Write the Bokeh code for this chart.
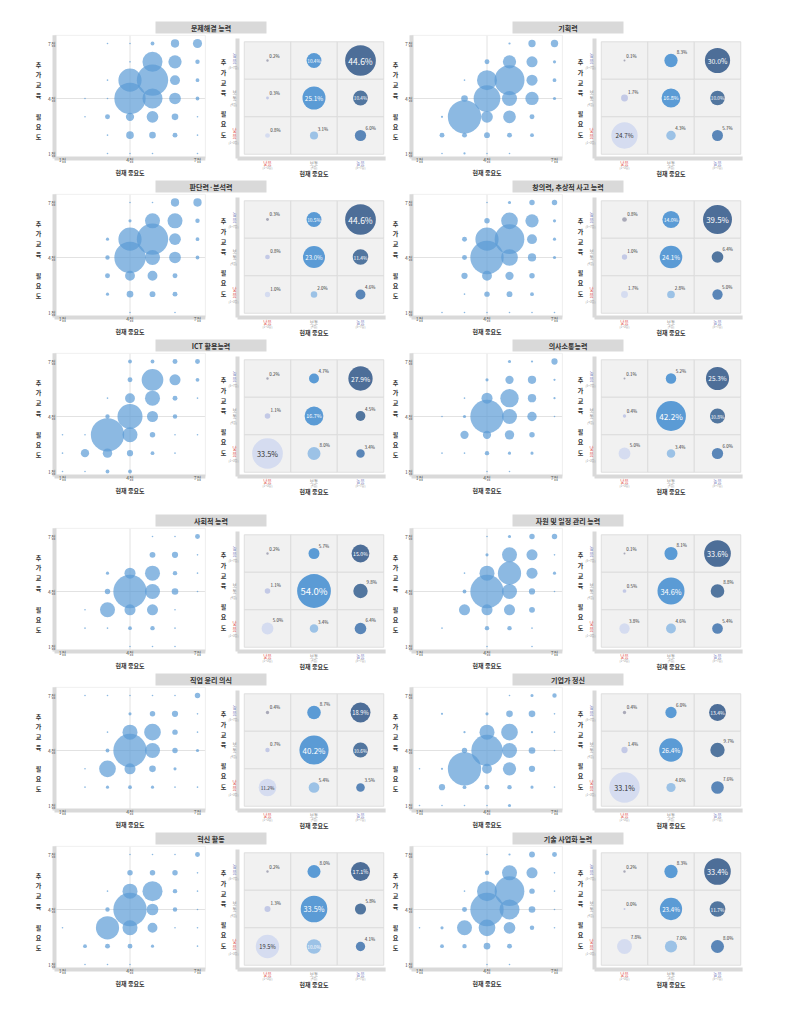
import math
from bokeh.plotting import figure
from bokeh.models import ColumnDataSource, Spacer, Range1d
from bokeh.layouts import column, row
from bokeh.embed import file_html
from bokeh.resources import INLINE
from bokeh.core.properties import value

FONT = "Noto Sans CJK KR"

# ---------------- data ----------------
titles = ["문제해결 능력", "기획력", "판단력·분석력", "창의력, 추상적 사고 능력",
          "ICT 활용능력", "의사소통능력", "사회적 능력", "자원 및 일정 관리 능력",
          "직업 윤리 의식", "기업가 정신", "혁신 활동", "기술 사업화 능력"]

score_ticks = [1, 4, 7]
score_labels = ["1점", "4점", "7점"]
level_ticks = [1, 2, 3]
level_labels = ["낮음", "보통", "높음"]
level_sub = ["(1~3점)", "(4점)", "(5~7점)"]
x_title = "현재 중요도"
y_title = "추가교육 필요도"

# bubble scatter: share of respondents (%), rows = 추가교육 필요도 7..1, cols = 현재 중요도 1..7
sc_problem = [[0, 0, 0.05, 0.05, 0.3, 1.4, 1.7],
              [0, 0, 0, 0.05, 8.2, 3.6, 0.4],
              [0, 0, 0.05, 11.0, 20.0, 2.0, 0.3],
              [0, 0.05, 0.05, 20.0, 8.2, 2.8, 0.3],
              [0, 0.05, 0.5, 1.4, 2.8, 0.9, 0.05],
              [0, 0, 0.05, 1.2, 0.9, 0.5, 0.05],
              [0, 0, 0.05, 0.05, 0.05, 0, 0.05]]
sc_planning = [[0, 0, 0, 0, 0.1, 1.1, 1.1],
               [0, 0, 0, 0.5, 3.6, 2.5, 0.2],
               [0, 0, 0.05, 8.2, 18.4, 2.5, 0.3],
               [0, 0, 0.9, 14.5, 4.6, 3.6, 0.2],
               [0, 0.1, 22.7, 2.8, 3.3, 0.5, 0],
               [0, 0.5, 0.5, 0.7, 0.5, 0.3, 0],
               [0, 0.05, 0.1, 0.05, 0.05, 0, 0]]
sc_judgement = [[0, 0, 0, 0.05, 0.05, 1.4, 1.4],
                [0, 0, 0, 0.2, 4.6, 4.6, 0.4],
                [0, 0, 0.2, 11.0, 20.0, 2.8, 0.3],
                [0, 0, 0.4, 20.0, 4.6, 2.8, 0.3],
                [0, 0, 0.5, 2.0, 2.0, 0.5, 0],
                [0, 0, 0.2, 0.9, 0.7, 0.5, 0],
                [0, 0, 0, 0.05, 0, 0.05, 0]]
sc_creative = [[0, 0, 0, 0.05, 0.2, 0.6, 0.6],
               [0, 0, 0, 0.6, 5.7, 3.6, 0.2],
               [0, 0, 0.5, 11.0, 18.0, 2.0, 0.2],
               [0, 0, 0.5, 22.7, 5.7, 1.4, 0.2],
               [0, 0, 0.8, 2.0, 1.4, 0.6, 0],
               [0, 0, 0.05, 0.6, 0.7, 0.3, 0],
               [0, 0.05, 0.05, 0.05, 0.05, 0.05, 0.05]]
sc_ict = [[0, 0, 0, 0.3, 0.3, 0.5, 0.5],
          [0, 0, 0, 0.5, 9.6, 2.5, 0.3],
          [0, 0, 0.05, 2.0, 4.6, 0.5, 0.05],
          [0, 0, 0.4, 12.8, 2.5, 0.4, 0],
          [0.05, 0.05, 22.7, 4.6, 0.6, 0.05, 0.05],
          [0.05, 1.4, 1.8, 0.8, 0.3, 0.05, 0],
          [0.05, 0.05, 0.3, 0.3, 0, 0, 0]]
sc_communication = [[0, 0, 0, 0, 0.2, 0.1, 0.8],
                    [0, 0, 0, 0.2, 1.4, 1.4, 0.1],
                    [0, 0, 0.05, 2.5, 6.9, 1.4, 0.1],
                    [0, 0.05, 0.2, 22.7, 4.6, 1.8, 0.05],
                    [0, 0, 1.4, 1.4, 1.8, 0.6, 0],
                    [0, 0.05, 0.05, 0.4, 0.2, 0.2, 0],
                    [0, 0, 0, 0.05, 0.05, 0, 0]]
sc_social = [[0, 0, 0, 0, 0.05, 0.05, 0.5],
             [0, 0, 0, 0, 0.7, 0.8, 0.05],
             [0, 0, 0.2, 2.5, 4.6, 0.4, 0.05],
             [0, 0, 0.6, 22.7, 4.6, 0.9, 0.05],
             [0, 0.05, 4.6, 2.5, 2.5, 0.05, 0],
             [0, 0.05, 0.05, 0.3, 0.4, 0.05, 0],
             [0, 0, 0, 0.05, 0.05, 0.05, 0]]
sc_resource = [[0, 0, 0, 0.05, 0.2, 0.6, 0.6],
               [0, 0, 0, 0.2, 4.6, 2.5, 0.05],
               [0, 0, 0.05, 4.6, 11.0, 2.5, 0.2],
               [0, 0, 0.3, 22.7, 4.6, 0.8, 0.05],
               [0, 0, 2.5, 2.5, 2.5, 0.7, 0],
               [0, 0.05, 0, 0.4, 0.4, 0.05, 0],
               [0, 0, 0, 0.05, 0, 0.05, 0]]
sc_ethics = [[0, 0.05, 0.05, 0.05, 0.05, 0.05, 0.6],
             [0, 0, 0, 0.2, 0.6, 0.8, 0.05],
             [0, 0, 0.05, 4.6, 5.7, 0.6, 0.05],
             [0, 0, 0.3, 22.7, 4.6, 0.6, 0.2],
             [0, 0.05, 5.7, 2.5, 0.9, 0.2, 0],
             [0, 0.05, 0.2, 0.3, 0.2, 0.05, 0.05],
             [0, 0, 0, 0, 0, 0, 0]]
sc_entrepreneur = [[0, 0, 0, 0, 0.05, 0.2, 0.4],
                   [0, 0.1, 0, 0.2, 0.9, 0.9, 0.05],
                   [0, 0, 0.1, 4.6, 5.7, 0.1, 0.05],
                   [0, 0, 0.6, 20.0, 4.6, 0.9, 0.05],
                   [0.05, 0.1, 22.7, 2.0, 3.6, 0.8, 0],
                   [0, 0.8, 0.3, 0.5, 0.4, 0.2, 0.05],
                   [0.05, 0.05, 0.05, 0.05, 0.2, 0, 0]]
sc_innovation = [[0, 0, 0, 0.05, 0.05, 0.05, 0.5],
                 [0, 0, 0, 0.6, 0.6, 0.6, 0.05],
                 [0, 0, 0.05, 4.6, 8.2, 0.4, 0.05],
                 [0, 0, 0.4, 22.7, 2.8, 0.4, 0.05],
                 [0.05, 0, 11.0, 4.6, 2.0, 0.05, 0.05],
                 [0, 0.3, 0.5, 0.5, 0.2, 0, 0.05],
                 [0, 0.05, 0.05, 0.05, 0, 0, 0]]
sc_techbiz = [[0, 0, 0, 0.05, 0.1, 0.7, 0.5],
              [0, 0, 0, 0.4, 4.6, 2.5, 0.05],
              [0, 0, 0.05, 8.2, 18.0, 0.6, 0.05],
              [0, 0, 0.5, 22.7, 8.2, 0.9, 0.05],
              [0.05, 0.2, 4.6, 5.7, 2.8, 0.4, 0.05],
              [0, 0.3, 0.4, 0.9, 0.5, 0, 0],
              [0, 0, 0, 0.05, 0.05, 0, 0]]

# 3x3 matrix (%): rows = 필요도 높음, 보통, 낮음 ; cols = 중요도 낮음, 보통, 높음
mx_problem = [[0.2, 10.4, 44.6], [0.3, 25.1, 10.4], [0.8, 3.1, 6.0]]
mx_planning = [[0.1, 8.3, 30.0], [1.7, 16.8, 10.0], [24.7, 4.3, 5.7]]
mx_judgement = [[0.3, 10.5, 44.6], [0.8, 23.0, 11.4], [1.0, 2.0, 4.6]]
mx_creative = [[0.8, 14.0, 39.5], [1.0, 24.1, 6.4], [1.7, 2.8, 5.0]]
mx_ict = [[0.2, 4.7, 27.9], [1.1, 16.7, 4.5], [33.5, 8.0, 3.4]]
mx_communication = [[0.1, 5.2, 25.3], [0.4, 42.2, 10.8], [5.0, 3.4, 6.0]]
mx_social = [[0.2, 5.7, 15.0], [1.1, 54.0, 9.8], [5.0, 3.4, 6.4]]
mx_resource = [[0.1, 8.1, 33.6], [0.5, 34.6, 8.8], [3.8, 4.6, 5.4]]
mx_ethics = [[0.4, 8.7, 18.9], [0.7, 40.2, 10.6], [11.2, 5.4, 3.5]]
mx_entrepreneur = [[0.4, 6.0, 13.4], [1.4, 26.4, 9.7], [33.1, 4.0, 7.6]]
mx_innovation = [[0.2, 8.0, 17.1], [1.3, 33.5, 5.8], [19.5, 10.0, 4.1]]
mx_techbiz = [[0.2, 8.3, 33.4], [0.0, 23.4, 11.7], [7.8, 7.0, 8.0]]

scatters = [sc_problem, sc_planning, sc_judgement, sc_creative, sc_ict, sc_communication,
            sc_social, sc_resource, sc_ethics, sc_entrepreneur, sc_innovation, sc_techbiz]
matrices = [mx_problem, mx_planning, mx_judgement, mx_creative, mx_ict, mx_communication,
            mx_social, mx_resource, mx_ethics, mx_entrepreneur, mx_innovation, mx_techbiz]

# ---------------- layout / styling constants ----------------
BUBBLE = "#5b9bd5"
CELL_COLORS = [["#a9a9b8", "#5b9bd5", "#4d6e98"],
               ["#c3c9e6", "#5b9bd5", "#52769f"],
               ["#d5dcf0", "#9cc2e6", "#5a86b8"]]
LEVEL_COLORS = ["#e0463c", "#888888", "#7478bd"]
BAR = "#d9d9d9"
STACKED = "\n".join(list(y_title.split(" ")[0]) + [" "] + list(y_title.split(" ")[1]))

GROUP_W = 357
ROW_H = 145
S_W, M_W = 188, 169
S_PXX, S_PXY = 22.5, 18.33      # px per score unit
S_X1, S_Y7 = 31, 9               # screen px of x=1 (from left) and y=7 (from top)
M_PXX, M_PXY = 46.5, 37.5        # px per level unit
M_X1, M_Y3 = 48, 26


def base_fig(w, h, xr, yr):
    p = figure(width=w, height=h, x_range=xr, y_range=yr, min_border=0, title=None,
               output_backend="svg", toolbar_location=None)
    p.axis.visible = False
    p.grid.visible = False
    p.outline_line_color = None
    p.background_fill_color = "white"
    p.border_fill_color = "white"
    return p


def txt(p, **kw):
    kw.setdefault("text_font", value(FONT))
    p.text(**kw)


def make_scatter(grid):
    x0 = 1 - S_X1 / S_PXX
    ytop = 7 + S_Y7 / S_PXY
    p = base_fig(S_W, ROW_H, Range1d(x0, x0 + S_W / S_PXX), Range1d(ytop - ROW_H / S_PXY, ytop))
    ax = x0 + 23 / S_PXX          # position of y axis bar
    ay = ytop - 124 / S_PXY       # position of x axis bar
    xe, ye = 7.35, 7.45
    p.segment(x0=[4, ax], y0=[ay, 4], x1=[4, xe], y1=[ye, 4], line_color="#e2e2e2", line_width=1)
    p.segment(x0=[xe, ax], y0=[ay, ye], x1=[xe, xe], y1=[ye, ye], line_color="#eeeeee", line_width=1)
    xs, ys, ds = [], [], []
    for i, rv in enumerate(grid):
        for j, v in enumerate(rv):
            if v > 0:
                xs.append(j + 1)
                ys.append(7 - i)
                ds.append(max(1.6, 7.0 * math.sqrt(v)))
    src = ColumnDataSource(dict(x=xs, y=ys, d=ds))
    p.scatter("x", "y", size="d", source=src, fill_color=BUBBLE, fill_alpha=0.7, line_color=None)
    p.segment(x0=[ax, ax], y0=[ay, ay], x1=[ax, xe], y1=[ye, ay], line_color=BAR, line_width=4)
    txt(p, x=[ax] * 3, y=score_ticks, text=score_labels, x_offset=1, text_align="right",
        text_baseline="middle", text_font_size="5px", text_color="#555555")
    txt(p, x=score_ticks, y=[ay] * 3, text=score_labels, y_offset=1, text_align="center",
        text_baseline="middle", text_font_size="5px", text_color="#555555")
    txt(p, x=[4], y=[ay], text=[x_title], y_offset=14, text_align="center", text_baseline="middle",
        text_font_size="6px", text_font_style="bold", text_color="#333333")
    txt(p, x=[ax], y=[4], text=[STACKED], x_offset=-16, y_offset=2, text_align="center",
        text_baseline="middle", text_font_size="6px", text_font_style="bold", text_color="#333333",
        text_line_height=1.15)
    return p


def make_matrix(mat):
    x0 = 1 - M_X1 / M_PXX
    ytop = 3 + M_Y3 / M_PXY
    p = base_fig(M_W, ROW_H, Range1d(x0, x0 + M_W / M_PXX), Range1d(ytop - ROW_H / M_PXY, ytop))
    ax = x0 + 18 / M_PXX
    ay = ytop - 124 / M_PXY
    cx, cy = [], []
    bx, by, bd, bc = [], [], [], []
    tx, ty, tt, tc, tf, ta, tb, txo, tyo = [], [], [], [], [], [], [], [], []
    for r in range(3):
        for c in range(3):
            x, y = level_ticks[c], level_ticks[2 - r]
            cx.append(x); cy.append(y)
            pct = mat[r][c]
            k = 5.3 if c == 0 else 4.6
            d = max(2.0, k * math.sqrt(pct))
            bx.append(x); by.append(y); bd.append(d); bc.append(CELL_COLORS[r][c])
            tx.append(x); ty.append(y); tt.append(f"{pct:.1f}%")
            if pct >= 10:
                tc.append("#333333" if c == 0 else "#ffffff")
                tf.append(f"{3.6 + 0.11 * pct:.1f}px")
                ta.append("center"); tb.append("middle"); txo.append(0); tyo.append(0)
            else:
                tc.append("#333333")
                tf.append("4.5px")
                ta.append("left"); tb.append("bottom")
                txo.append(d * 0.35 + 1); tyo.append(-(d * 0.35 + 1))
    p.rect(cx, cy, width=1, height=1, fill_color="#f1f1f1", line_color="#d9d9d9", line_width=0.8)
    p.scatter(bx, by, size=bd, fill_color=bc, line_color=None)
    tsrc = ColumnDataSource(dict(x=tx, y=ty, t=tt, c=tc, f=tf, a=ta, b=tb, xo=txo, yo=tyo))
    p.text("x", "y", text="t", text_color="c", text_font_size="f", text_align="a",
           text_baseline="b", x_offset="xo", y_offset="yo", text_font=value(FONT), source=tsrc)
    p.segment(x0=[ax, ax], y0=[ay, ay], x1=[ax, 3.54], y1=[3.59, ay], line_color=BAR, line_width=4)
    txt(p, x=level_ticks, y=[ay] * 3, text=level_labels, y_offset=4, text_align="center",
        text_baseline="middle", text_font_size="4.5px", text_color=LEVEL_COLORS)
    txt(p, x=level_ticks, y=[ay] * 3, text=level_sub, y_offset=9, text_align="center",
        text_baseline="middle", text_font_size="3px", text_color="#999999")
    txt(p, x=[ax] * 3, y=level_ticks, text=["\n".join(s) for s in level_labels], x_offset=-3,
        y_offset=-3, text_align="center", text_baseline="middle", text_font_size="4.5px",
        text_color=LEVEL_COLORS, text_line_height=1.0)
    txt(p, x=[ax] * 3, y=level_ticks, text=level_sub, x_offset=-4, y_offset=7, text_align="center",
        text_baseline="middle", text_font_size="3px", text_color="#999999")
    txt(p, x=[2], y=[ay], text=[x_title], y_offset=15, text_align="center", text_baseline="middle",
        text_font_size="6px", text_font_style="bold", text_color="#333333")
    txt(p, x=[ax], y=[2], text=[STACKED], x_offset=-14, text_align="center", text_baseline="middle",
        text_font_size="6px", text_font_style="bold", text_color="#333333", text_line_height=1.15)
    return p


def make_title(t):
    f = base_fig(GROUP_W, 14, Range1d(0, GROUP_W), Range1d(0, 14))
    f.rect(x=[179.5], y=[7], width=111, height=12, fill_color="#d9d9d9", line_color=None)
    txt(f, x=[179.5], y=[7], text=[t], text_align="center", text_baseline="middle",
        text_font_size="7px", text_font_style="bold", text_color="#333333")
    return f


rows_ = [Spacer(width=10, height=20)]
for ri in range(6):
    if ri == 3:
        rows_.append(Spacer(width=10, height=16))
    groups = []
    for ci in range(2):
        idx = ri * 2 + ci
        groups.append(column(make_title(titles[idx]),
                             row(make_scatter(scatters[idx]), make_matrix(matrices[idx]), spacing=0),
                             spacing=0))
    rows_.append(row(Spacer(width=31, height=10), groups[0], groups[1], spacing=0))

layout = column(*rows_, spacing=0)

open("out.html", "w").write(file_html(layout, INLINE))
